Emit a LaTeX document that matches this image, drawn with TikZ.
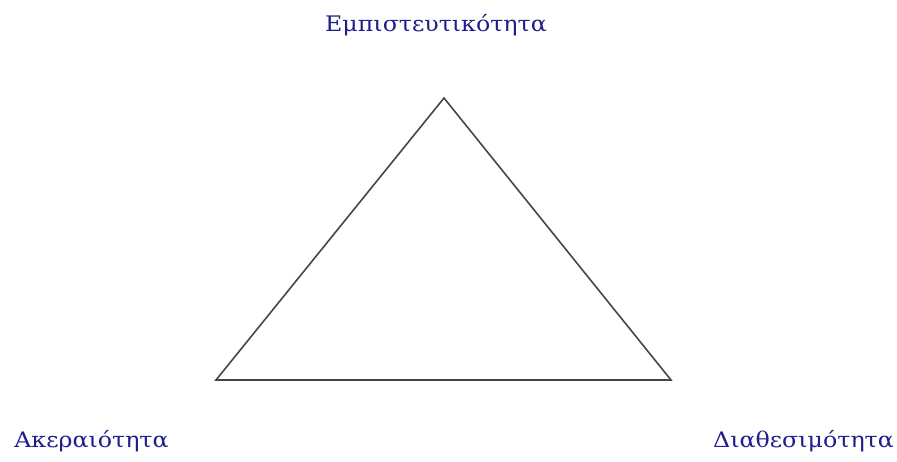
\documentclass[tikz,border=0pt]{standalone}
\usepackage{fontspec}
\setmainfont{DejaVu Serif}
\definecolor{labelblue}{RGB}{30,30,140}
\definecolor{edgegray}{RGB}{70,70,70}
\newcommand{\widetext}[1]{\scalebox{1.13}[1.02]{#1}}
\begin{document}
\begin{tikzpicture}[x=1pt,y=-1pt,
  vlabel/.style={text=labelblue,font=\fontsize{21}{25}\selectfont,inner sep=0pt,anchor=center},
  edge/.style={draw=edgegray,line width=1.6pt,line join=miter}]
\useasboundingbox (0,0) rectangle (897,461);
\coordinate (top) at (444,98);
\coordinate (bl) at (216,380);
\coordinate (br) at (671,380);
\draw[edge] (top) -- (bl) -- (br) -- cycle;
\node[vlabel] (conf) at (436,25) {\widetext{Εμπιστευτικότητα}};
\node[vlabel] (integ) at (91.5,441) {\widetext{Ακεραιότητα}};
\node[vlabel] (avail) at (803.5,441) {\widetext{Διαθεσιμότητα}};
\end{tikzpicture}
\end{document}
